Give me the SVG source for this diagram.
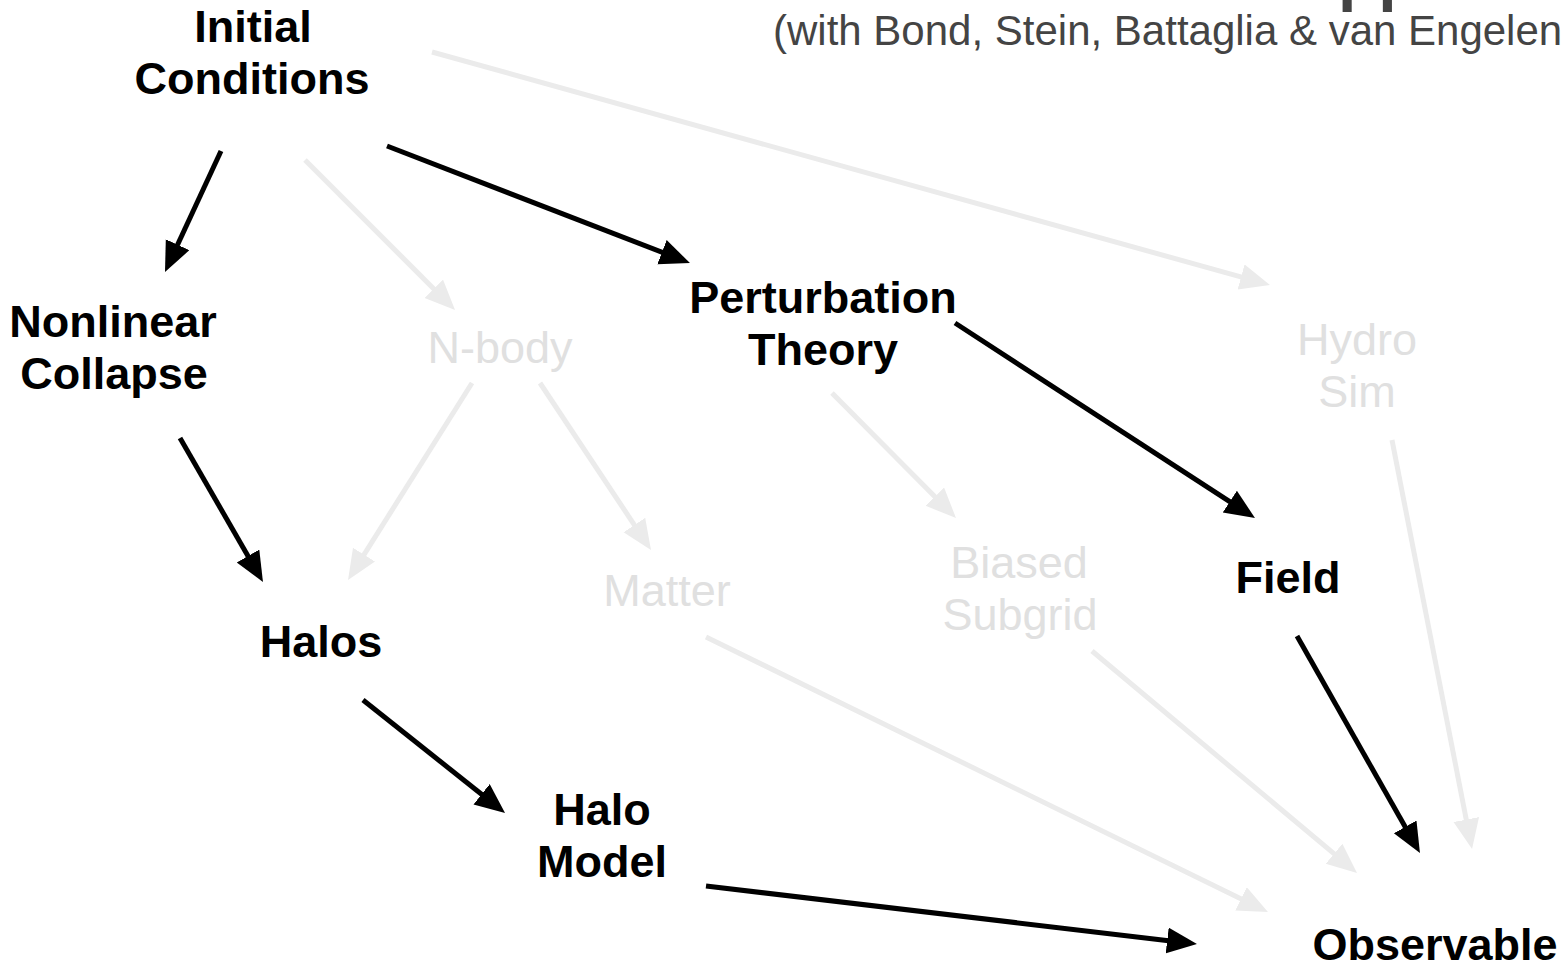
<svg xmlns="http://www.w3.org/2000/svg" width="1566" height="973" viewBox="0 0 1566 973">
<style>
.b{font-family:"Liberation Sans",Arial,sans-serif;font-weight:bold;font-size:45px;fill:#000;text-anchor:middle}
.g{font-family:"Liberation Sans",Arial,sans-serif;font-size:45px;fill:#e0e0e0;text-anchor:middle}
.sub{font-family:"Liberation Sans",Arial,sans-serif;font-size:42px;fill:#444}
.ca{stroke:#000;stroke-width:5;fill:none;marker-end:url(#hb)}
.cg{stroke:#ebebeb;stroke-width:5;fill:none;marker-end:url(#hg)}
</style>
<defs>
<marker id="hb" markerUnits="userSpaceOnUse" markerWidth="32" markerHeight="28" refX="10" refY="13" orient="auto"><path d="M0,0 L30,13 L0,26 Z" fill="#000"/></marker>
<marker id="hg" markerUnits="userSpaceOnUse" markerWidth="32" markerHeight="28" refX="10" refY="13" orient="auto"><path d="M0,0 L30,13 L0,26 Z" fill="#ebebeb"/></marker>
</defs>
<rect width="1566" height="973" fill="#fff"/>
<g id="title">
<text x="1338" y="-2" font-family="Liberation Sans, Arial, sans-serif" font-weight="bold" font-size="66" fill="#444">pp</text>
<text class="sub" x="773" y="45">(with Bond, Stein, Battaglia &amp; van Engelen</text>
</g>
<g id="connectors">
<path class="cg" d="M432,52 L1250.7,279.6"/>
<path class="cg" d="M305,160 L440.9,295.9"/>
<path class="cg" d="M472,383 L358.7,563.1"/>
<path class="cg" d="M540,383 L639.9,533.3"/>
<path class="cg" d="M832,393 L941.9,503.8"/>
<path class="cg" d="M706,637 L1250,903.2"/>
<path class="cg" d="M1092,651 L1341.7,860.2"/>
<path class="cg" d="M1392,440 L1468.2,829.4"/>
<path class="ca" d="M221,151 L173.4,253.8"/>
<path class="ca" d="M387,146 L671.3,255.8"/>
<path class="ca" d="M180,438 L253,564.7"/>
<path class="ca" d="M955,323 L1238.2,507.1"/>
<path class="ca" d="M363,700 L489.4,800.5"/>
<path class="ca" d="M706,886 L1177.1,941.7"/>
<path class="ca" d="M1297,636 L1410.1,835.6"/>
</g>
<g id="initial"><text class="b" x="253" y="42">Initial</text><text class="b" x="252" y="94">Conditions</text></g>
<g id="nonlinear"><text class="b" x="113" y="337">Nonlinear</text><text class="b" x="114" y="389">Collapse</text></g>
<g id="nbody"><text class="g" x="500" y="363">N-body</text></g>
<g id="perturbation"><text class="b" x="823" y="313">Perturbation</text><text class="b" x="823" y="365">Theory</text></g>
<g id="hydro"><text class="g" x="1357" y="355">Hydro</text><text class="g" x="1357" y="407">Sim</text></g>
<g id="halos"><text class="b" x="321" y="657">Halos</text></g>
<g id="matter"><text class="g" x="667" y="606">Matter</text></g>
<g id="biased"><text class="g" x="1019" y="578">Biased</text><text class="g" x="1020" y="630">Subgrid</text></g>
<g id="field"><text class="b" x="1288" y="593">Field</text></g>
<g id="halomodel"><text class="b" x="602" y="825">Halo</text><text class="b" x="602" y="877">Model</text></g>
<g id="observable"><text class="b" x="1435" y="960">Observable</text></g>
</svg>
